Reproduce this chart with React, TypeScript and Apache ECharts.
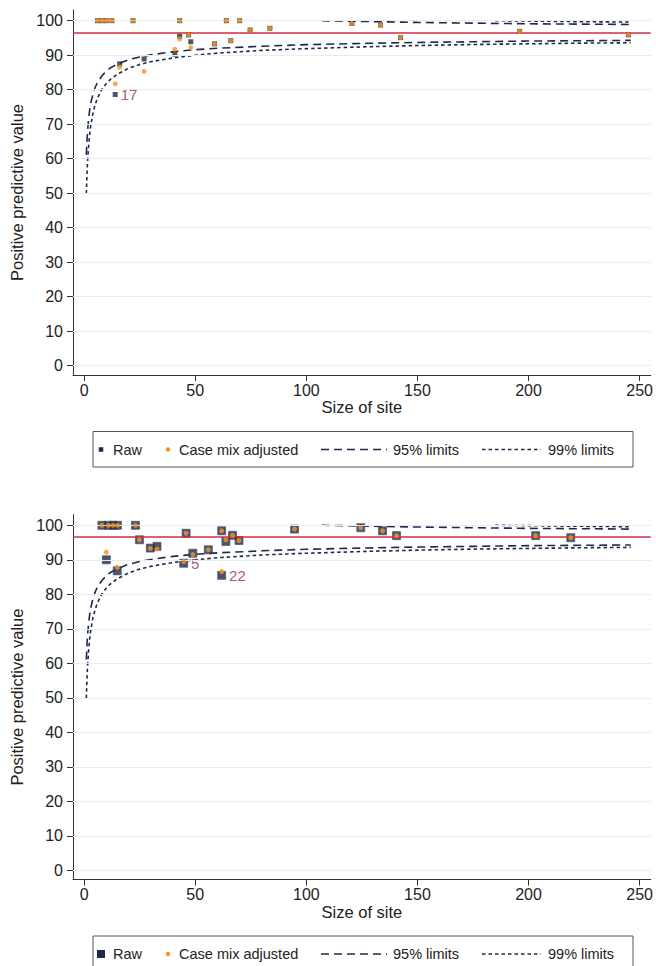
import React, { useEffect, useRef } from "react";
import * as echarts from "echarts";

// ---------- shared axis ticks ----------
const xTicks = [0, 50, 100, 150, 200, 250];
const yTicks = [0, 10, 20, 30, 40, 50, 60, 70, 80, 90, 100];
const targetValue = 96.6;

// ---------- control limits ----------
const lowerSizes = [1, 1.25, 1.5, 2, 2.5, 3, 4, 5, 6, 8, 10, 12, 15, 20, 25, 30, 40, 50, 60, 80, 100, 125, 150, 175, 200, 225, 246];
const lower95 = [61.1, 64.8, 67.6, 71.5, 74.1, 76.1, 78.8, 80.7, 82.1, 84.0, 85.4, 86.4, 87.4, 88.7, 89.5, 90.1, 91.0, 91.6, 92.0, 92.6, 93.05, 93.4, 93.7, 93.9, 94.1, 94.2, 94.3];
const lower99 = [49.9, 54.8, 58.5, 63.6, 67.1, 69.7, 73.3, 75.7, 77.5, 80.1, 81.8, 83.1, 84.5, 86.2, 87.3, 88.1, 89.2, 90.0, 90.6, 91.4, 91.9, 92.4, 92.8, 93.1, 93.3, 93.5, 93.6];
const upper95Sizes = [107, 125, 150, 175, 200, 225, 246];
const upper95 = [100.0, 99.8, 99.5, 99.3, 99.1, 99.0, 98.9];
const upper99Sizes = [185, 200, 225, 246];
const upper99 = [100.0, 99.9, 99.7, 99.6];

// ---------- top panel sites ----------
const topSize = [6, 8, 10, 12.5, 14, 16, 22, 27, 40.8, 43, 43, 47, 48, 58.7, 64, 66, 70, 74.7, 83.6, 120.5, 133.4, 142.4, 196, 245];
const topRaw = [100, 100, 100, 100, 78.6, 87.5, 100, 88.9, 90.3, 100, 95.5, 95.9, 93.9, 93.3, 100, 94.2, 100, 97.3, 97.8, 99.2, 98.75, 95.1, 96.9, 95.9];
const topAdj = [100, 100, 100, 100, 81.7, 86.5, 100, 85.3, 91.7, 100, 94.7, 95.9, 92.2, 93.3, 100, 94.2, 100, 97.3, 97.8, 99.2, 98.75, 95.1, 96.9, 95.9];
const topLabels = ["", "", "", "", "17", "", "", "", "", "", "", "", "", "", "", "", "", "", "", "", "", "", "", ""];

// ---------- bottom panel sites ----------
const botSize = [8, 11, 13, 15, 23.1, 10, 14.9, 24.9, 29.8, 32.8, 45.9, 44.8, 48.9, 55.9, 61.9, 61.9, 63.8, 66.8, 69.7, 94.7, 124.5, 134.3, 140.6, 203.2, 219];
const botRaw = [100, 100, 100, 100, 100, 90.0, 86.8, 95.8, 93.4, 93.9, 97.7, 89.0, 91.9, 92.9, 98.4, 85.5, 95.3, 97.1, 95.6, 98.9, 99.3, 98.4, 97.0, 97.0, 96.4];
const botAdj = [100, 100, 100, 100, 100, 92.2, 87.8, 95.8, 93.3, 93.1, 97.7, 89.5, 91.5, 92.9, 98.4, 86.6, 95.8, 97.1, 95.6, 98.9, 99.3, 98.4, 97.0, 97.0, 96.4];
const botLabels = ["", "", "", "", "", "", "", "", "", "", "", "5", "", "", "", "22", "", "", "", "", "", "", "", "", ""];

const legendNames = ["Raw", "Case mix adjusted", "95% limits", "99% limits"];

const FONT = "'Liberation Sans', Arial, Helvetica, sans-serif";
const NAVY = "#1e2a4a";
const ORANGE = "#f7941d";
const RED = "#d42a44";
const GRIDC = "#e6ecf0";
const TXT = "#222222";
const LABELC = "#8e3434";

function pairs(xs: number[], ys: number[]) {
  return xs.map((x, i) => [x, ys[i]]);
}

function buildPanel(idx: number, sizes: number[], raw: number[], adj: number[], labels: string[], rawSymbol: number, adjSymbol: number) {
  const ax = { xAxisIndex: idx, yAxisIndex: idx };
  return [
    {
      type: "line", ...ax, data: [], silent: true, z: 1,
      markLine: {
        silent: true, symbol: ["none", "none"], label: { show: false },
        lineStyle: { color: GRIDC, width: 1, type: "solid" },
        data: yTicks.map((v) => ({ yAxis: v })),
      },
    },
    {
      type: "line", ...ax, data: [], silent: true, z: 3,
      markLine: {
        silent: true, symbol: ["none", "none"], label: { show: false },
        lineStyle: { color: RED, width: 1.6, type: "solid" },
        data: [{ yAxis: targetValue }],
      },
    },
    {
      name: legendNames[2], type: "line", ...ax, data: pairs(lowerSizes, lower95), showSymbol: false, symbol: "none", z: 2,
      lineStyle: { color: NAVY, width: 1.6, type: [8, 5] },
    },
    {
      name: legendNames[2], type: "line", ...ax, data: pairs(upper95Sizes, upper95), showSymbol: false, symbol: "none", z: 2,
      lineStyle: { color: NAVY, width: 1.6, type: [8, 5] },
    },
    {
      name: legendNames[3], type: "line", ...ax, data: pairs(lowerSizes, lower99), showSymbol: false, symbol: "none", z: 2,
      lineStyle: { color: NAVY, width: 1.6, type: [3.5, 3] },
    },
    {
      name: legendNames[3], type: "line", ...ax, data: pairs(upper99Sizes, upper99), showSymbol: false, symbol: "none", z: 2,
      lineStyle: { color: NAVY, width: 1.6, type: [3.5, 3] },
    },
    {
      name: legendNames[0], type: "scatter", ...ax, z: 4, symbol: "rect", symbolSize: rawSymbol,
      itemStyle: { color: NAVY, borderColor: "#3a4a6e", borderWidth: rawSymbol > 6 ? 0.8 : 0 },
      data: pairs(sizes, raw),
      label: {
        show: true, position: "right", distance: 3, color: LABELC, fontSize: 15, fontFamily: FONT,
        formatter: (p: any) => labels[p.dataIndex] || "",
      },
    },
    {
      name: legendNames[1], type: "scatter", ...ax, z: 5, symbol: "circle", symbolSize: adjSymbol,
      itemStyle: { color: ORANGE },
      data: pairs(sizes, adj),
    },
  ];
}

function legendBox(top: number, rawSq: number) {
  const cy = top + 18;
  const fs = 14.5;
  const tstyle = (text: string) => ({ text, fill: TXT, font: `${fs}px ${FONT}`, verticalAlign: "middle", align: "left" });
  return [
    { type: "rect", shape: { x: 93, y: top, width: 540, height: 35.5 }, style: { fill: "#ffffff", stroke: "#555555", lineWidth: 1 } },
    { type: "rect", shape: { x: 101 - rawSq / 2, y: cy - rawSq / 2, width: rawSq, height: rawSq }, style: { fill: NAVY } },
    { type: "text", x: 113, y: cy, style: tstyle(legendNames[0]) },
    { type: "circle", shape: { cx: 168, cy, r: 2.2 }, style: { fill: ORANGE } },
    { type: "text", x: 179, y: cy, style: tstyle(legendNames[1]) },
    { type: "line", shape: { x1: 321, y1: cy, x2: 387, y2: cy }, style: { stroke: NAVY, lineWidth: 1.5, lineDash: [8, 5] } },
    { type: "text", x: 393, y: cy, style: tstyle(legendNames[2]) },
    { type: "line", shape: { x1: 482, y1: cy, x2: 541, y2: cy }, style: { stroke: NAVY, lineWidth: 1.5, lineDash: [3.5, 3] } },
    { type: "text", x: 548, y: cy, style: tstyle(legendNames[3]) },
  ];
}

function xAxisCfg(idx: number) {
  return {
    gridIndex: idx, type: "value", min: -5, max: 255,
    axisLine: { show: true, onZero: false, lineStyle: { color: "#333333", width: 1 } },
    axisTick: { show: true, length: 6, customValues: xTicks, lineStyle: { color: "#333333" } },
    axisLabel: { customValues: xTicks, fontSize: 16, color: TXT, margin: 7, fontFamily: FONT },
    splitLine: { show: false },
    name: "Size of site", nameLocation: "middle", nameGap: 22,
    nameTextStyle: { fontSize: 16.5, color: TXT, fontFamily: FONT },
  };
}

function yAxisCfg(idx: number) {
  return {
    gridIndex: idx, type: "value", min: -2.7, max: 103.1,
    axisLine: { show: true, onZero: false, lineStyle: { color: "#333333", width: 1 } },
    axisTick: { show: true, length: 6, customValues: yTicks, lineStyle: { color: "#333333" } },
    axisLabel: { customValues: yTicks, fontSize: 16, color: TXT, margin: 10, fontFamily: FONT },
    splitLine: { show: false },
    name: "Positive predictive value", nameLocation: "middle", nameGap: 46,
    nameTextStyle: { fontSize: 16.5, color: TXT, fontFamily: FONT },
  };
}

export default function App() {
  const ref = useRef<HTMLDivElement>(null);
  useEffect(() => {
    document.body.style.margin = "0";
    if (!ref.current) return;
    const chart = echarts.init(ref.current, undefined, { renderer: "svg" });
    const option: any = {
      animation: false,
      backgroundColor: "#ffffff",
      grid: [
        { left: 73, top: 10, width: 580, height: 365 },
        { left: 73, top: 514.6, width: 580, height: 365 },
      ],
      xAxis: [xAxisCfg(0), xAxisCfg(1)],
      yAxis: [yAxisCfg(0), yAxisCfg(1)],
      series: [
        ...buildPanel(0, topSize, topRaw, topAdj, topLabels, 5, 5),
        ...buildPanel(1, botSize, botRaw, botAdj, botLabels, 8, 5),
      ],
      graphic: [...legendBox(431.5, 4.5), ...legendBox(936, 8)],
    };
    chart.setOption(option);
    return () => chart.dispose();
  }, []);
  return <div ref={ref} style={{ width: 656, height: 966 }} />;
}
